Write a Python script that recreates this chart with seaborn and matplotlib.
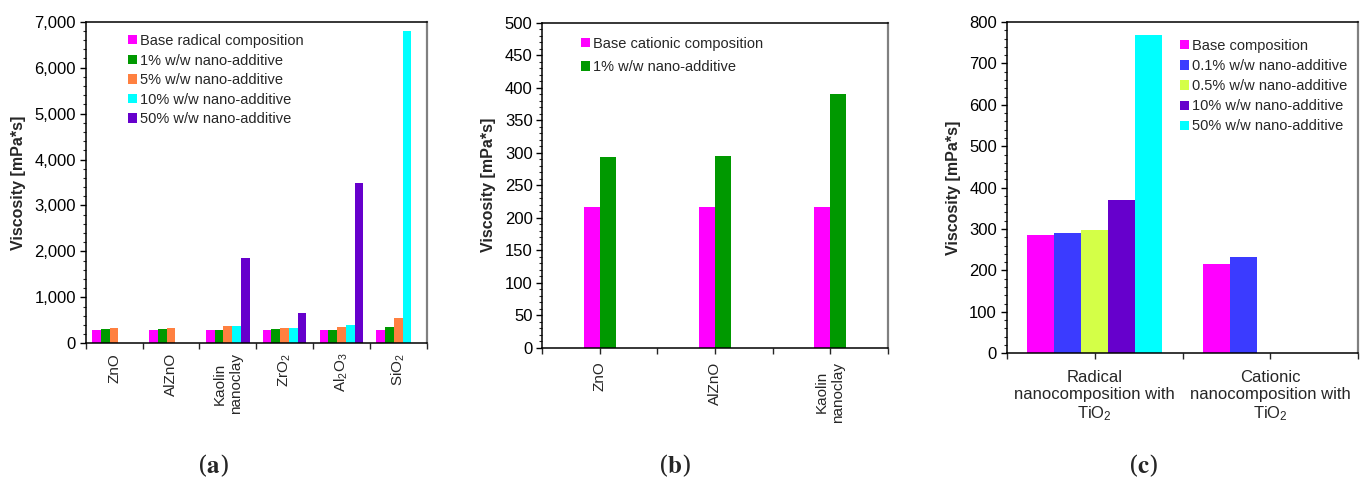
import matplotlib
matplotlib.use("Agg")
import matplotlib.pyplot as plt
from matplotlib.patches import Patch
from matplotlib.ticker import FuncFormatter, MultipleLocator, FixedLocator
import numpy as np
import pandas as pd
import seaborn as sns

sns.set_theme(style="white")
plt.rcParams["font.family"] = ["Liberation Sans", "DejaVu Sans"]
plt.rcParams["mathtext.fontset"] = "custom"
plt.rcParams["mathtext.rm"] = "Liberation Sans"
plt.rcParams["mathtext.it"] = "Liberation Sans:italic"
plt.rcParams["mathtext.bf"] = "Liberation Sans:bold"

# ---------------- data ----------------
# (a) radical compositions with various nano-additives
cats_a = ["ZnO", "AlZnO", "Kaolin\nnanoclay", "ZrO$_2$", "Al$_2$O$_3$", "SiO$_2$"]
series_a = ["Base radical composition", "1% w/w nano-additive", "5% w/w nano-additive",
            "10% w/w nano-additive", "50% w/w nano-additive"]
base_a = [290, 290, 290, 290, 290, 290]
p1_a = [320, 310, 280, 310, 300, 350]
p5_a = [330, 325, 385, 340, 350, 545]
p10_a = [None, None, 375, 340, 390, 6795]
p50_a = [None, None, 1850, 660, 3490, None]
colors_a = ["#FF00FF", "#009900", "#FF8040", "#00FFFF", "#6600CC"]

# (b) cationic compositions
cats_b = ["ZnO", "AlZnO", "Kaolin\nnanoclay"]
series_b = ["Base cationic composition", "1% w/w nano-additive"]
base_b = [216, 216, 216]
p1_b = [294, 295, 391]
colors_b = ["#FF00FF", "#009900"]

# (c) TiO2 nanocompositions
cats_c = ["Radical\nnanocomposition with\nTiO$_2$", "Cationic\nnanocomposition with\nTiO$_2$"]
series_c = ["Base composition", "0.1% w/w nano-additive", "0.5% w/w nano-additive",
            "10% w/w nano-additive", "50% w/w nano-additive"]
base_c = [285, 216]
p01_c = [290, 232]
p05_c = [298, None]
p10_c = [370, None]
p50_c = [769, None]
colors_c = ["#FF00FF", "#3B3BFF", "#D4FF47", "#6600CC", "#00FFFF"]


def long_frame(cats, series, columns):
    rows = []
    for s, vals in zip(series, columns):
        for c, v in zip(cats, vals):
            if v is not None:
                rows.append({"cat": c, "series": s, "value": v})
    return pd.DataFrame(rows)


W, H = 1367, 479
fig = plt.figure(figsize=(W / 100, H / 100), dpi=100)


def style_axes(ax, ymax, major, minor, fmt=None):
    ax.set_ylim(0, ymax)
    ax.yaxis.set_major_locator(MultipleLocator(major))
    ax.yaxis.set_minor_locator(MultipleLocator(minor))
    if fmt is not None:
        ax.yaxis.set_major_formatter(fmt)
    ax.tick_params(axis="y", which="major", direction="out", length=4, width=1,
                   labelsize=12, pad=3, left=True, colors="black")
    ax.tick_params(axis="y", which="minor", direction="out", length=2.5, width=0.8, left=True)
    for side in ["left", "bottom", "top"]:
        ax.spines[side].set_color("black")
        ax.spines[side].set_linewidth(1.1)
    ax.spines["right"].set_color("#808080")
    ax.spines["right"].set_linewidth(1.6)
    ax.set_xlabel("")
    ax.set_ylabel("Viscosity [mPa*s]", fontsize=11.5, fontweight="bold", labelpad=6)
    ax.set_facecolor("white")


def add_legend(ax, series, colors, x, y, spacing):
    handles = [Patch(facecolor=c, edgecolor="none") for c in colors]
    leg = fig.legend(handles, series, loc="upper left",
                     bbox_to_anchor=(x / W, 1 - y / H), bbox_transform=fig.transFigure,
                     frameon=False, fontsize=10.5, handlelength=0.6, handleheight=0.6,
                     handletextpad=0.25, labelspacing=spacing, borderaxespad=0, borderpad=0)
    return leg


# ---------------- panel (a) ----------------
ax_a = fig.add_axes([85.7 / W, 1 - 343.3 / H, 341 / W, 321.6 / H])
df_a = long_frame(cats_a, series_a, [base_a, p1_a, p5_a, p10_a, p50_a])
sns.barplot(data=df_a, x="cat", y="value", hue="series", order=cats_a, hue_order=series_a,
            palette=colors_a, width=0.77, errorbar=None, linewidth=0, saturation=1,
            ax=ax_a, legend=False)
style_axes(ax_a, 7000, 1000, 200, FuncFormatter(lambda v, p: f"{v:,.0f}"))
ax_a.set_xlim(-0.5, len(cats_a) - 0.5)
ax_a.xaxis.set_major_locator(FixedLocator(np.arange(len(cats_a))))
ax_a.set_xticklabels(cats_a, rotation=90, fontsize=11, va="top", ha="center")
ax_a.xaxis.set_minor_locator(FixedLocator(np.arange(len(cats_a) + 1) - 0.5))
ax_a.tick_params(axis="x", which="major", length=0, pad=7)
ax_a.tick_params(axis="x", which="minor", direction="out", length=4, width=1, bottom=True)
add_legend(ax_a, series_a, colors_a, 128, 34, 0.38)

# ---------------- panel (b) ----------------
ax_b = fig.add_axes([542.3 / W, 1 - 347.7 / H, 345.4 / W, 325 / H])
df_b = long_frame(cats_b, series_b, [base_b, p1_b])
sns.barplot(data=df_b, x="cat", y="value", hue="series", order=cats_b, hue_order=series_b,
            palette=colors_b, width=0.284, errorbar=None, linewidth=0, saturation=1,
            ax=ax_b, legend=False)
style_axes(ax_b, 500, 50, 10)
ax_b.set_xlim(-0.5, len(cats_b) - 0.5)
ax_b.xaxis.set_major_locator(FixedLocator(np.arange(len(cats_b))))
ax_b.set_xticklabels(cats_b, rotation=90, fontsize=11, va="top", ha="center")
ax_b.xaxis.set_minor_locator(FixedLocator(np.arange(len(cats_b) + 1) - 0.5))
ax_b.tick_params(axis="x", which="both", direction="out", length=4, width=1, bottom=True)
ax_b.tick_params(axis="x", which="major", pad=6)
add_legend(ax_b, series_b, colors_b, 581, 37, 0.62)

# ---------------- panel (c) ----------------
ax_c = fig.add_axes([1006.7 / W, 1 - 353.3 / H, 351.6 / W, 331.3 / H])
df_c = long_frame(cats_c, series_c, [base_c, p01_c, p05_c, p10_c, p50_c])
sns.barplot(data=df_c, x="cat", y="value", hue="series", order=cats_c, hue_order=series_c,
            palette=colors_c, width=0.766, errorbar=None, linewidth=0, saturation=1,
            ax=ax_c, legend=False)
style_axes(ax_c, 800, 100, 20)
ax_c.set_xlim(-0.5, len(cats_c) - 0.5)
ax_c.xaxis.set_major_locator(FixedLocator(np.arange(len(cats_c))))
ax_c.set_xticklabels(cats_c, rotation=0, fontsize=12, va="top", ha="center",
                     linespacing=1.15)
ax_c.xaxis.set_minor_locator(FixedLocator(np.arange(len(cats_c) + 1) - 0.5))
ax_c.tick_params(axis="x", which="both", direction="out", length=4, width=1, bottom=True)
ax_c.tick_params(axis="x", which="major", pad=8)
add_legend(ax_c, series_c, colors_c, 1180, 39, 0.42)

# ---------------- panel captions ----------------
for label, xc in [("a", 213), ("b", 675), ("c", 1143)]:
    fig.text(xc / W, 1 - 466 / H, r"($\mathbf{" + label + r"}$)", ha="center", va="center",
             fontsize=18, family="DejaVu Serif", math_fontfamily="stix")

fig.savefig("out.png", dpi=100, facecolor="white")
